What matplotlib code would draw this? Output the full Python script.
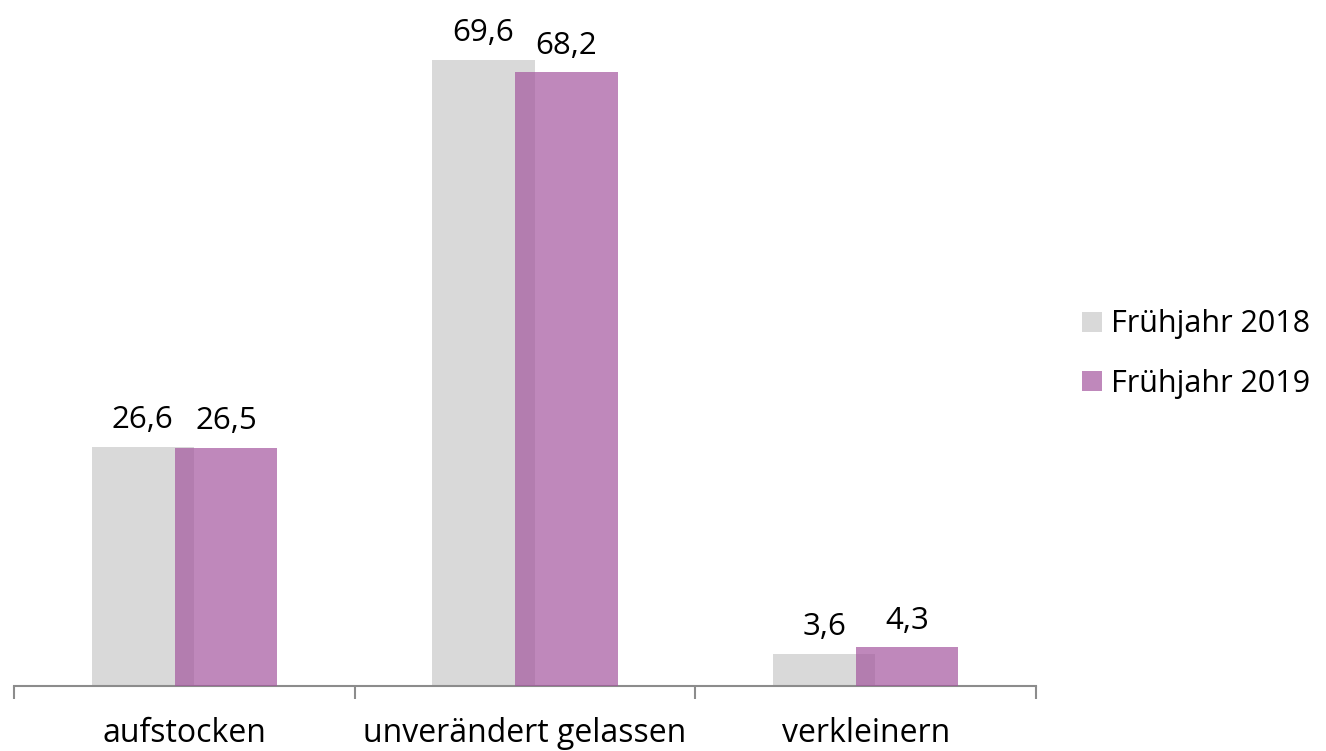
import matplotlib.pyplot as plt
import numpy as np

# --- data ---
categories = ['aufstocken', 'unverändert gelassen', 'verkleinern']
series_names = ['Frühjahr 2018', 'Frühjahr 2019']
values_2018 = [26.6, 69.6, 3.6]
values_2019 = [26.5, 68.2, 4.3]

GREY = '#D9D9D9'
PURPLE = '#A4569E'

plt.rcParams['font.family'] = ['Open Sans', 'DejaVu Sans']

fig = plt.figure(figsize=(13.26, 7.51), dpi=100)
ax = fig.add_axes([14 / 1326, 65 / 751, (1036 - 14) / 1326, 684 / 751])

x = np.arange(len(categories))
width = 0.30
offset = 0.122

bars1 = ax.bar(x - offset, values_2018, width, color=GREY, label=series_names[0], zorder=2)
bars2 = ax.bar(x + offset, values_2019, width, color=PURPLE, alpha=0.7, label=series_names[1], zorder=3)

# value labels above each bar
for bars in (bars1, bars2):
    for b in bars:
        h = b.get_height()
        ax.annotate(f'{h:.1f}'.replace('.', ','), (b.get_x() + b.get_width() / 2, h),
                    xytext=(0, 8), textcoords='offset points',
                    ha='center', va='bottom', fontsize=22.5, color='#000000')

ax.set_xlim(-0.5, len(categories) - 0.5)
ax.set_ylim(0, 76)

for s in ['top', 'right', 'left']:
    ax.spines[s].set_visible(False)
ax.spines['bottom'].set_color('#8C8C8C')
ax.spines['bottom'].set_linewidth(1.5)
ax.set_yticks([])

ax.set_xticks(x)
ax.set_xticklabels(categories, fontsize=23, color='#000000')
ax.tick_params(axis='x', which='major', length=0, pad=22)
ax.set_xticks(np.arange(len(categories) + 1) - 0.5, minor=True)
ax.tick_params(axis='x', which='minor', length=9, width=1.5, color='#8C8C8C', direction='out')

leg = fig.legend(loc='center left', bbox_to_anchor=(1082 / 1326, (751 - 354) / 751),
                 frameon=False, fontsize=22, handlelength=0.64, handleheight=0.64,
                 handletextpad=0.3, labelspacing=0.95, borderpad=0, borderaxespad=0)

fig.savefig('out.png', dpi=100)
